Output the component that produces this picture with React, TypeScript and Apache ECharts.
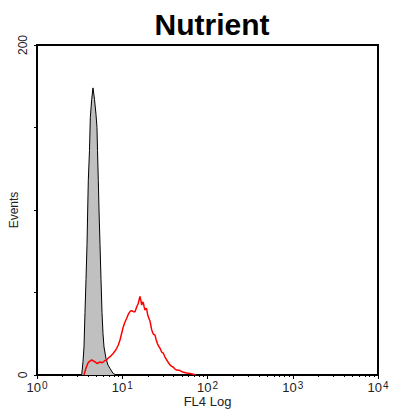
import React, { useEffect, useRef } from "react";
import * as echarts from "echarts";

const TITLE = "Nutrient";
const X_NAME = "FL4 Log";
const Y_NAME = "Events";

// Control (gray filled) histogram
const GRAY_FL4 = [3.345, 3.464, 3.558, 3.656, 3.757, 3.86, 3.933, 3.997, 4.128, 4.219, 4.381, 4.538, 4.726, 4.921, 5.056, 5.125, 5.237, 5.337, 5.483, 5.633, 5.788, 5.946, 6.109, 6.446, 6.804, 7.182, 7.791, 8.449];
const GRAY_EVENTS = [0, 8, 17, 38, 58, 79, 100, 118, 136, 156, 167, 174, 167, 158, 150, 136, 118, 100, 79, 58, 38, 25, 17, 10, 6, 4, 1, 0];

// Sample (red line) histogram
const RED_FL4 = [3.558, 3.757, 3.965, 4.107, 4.381, 4.599, 4.789, 5.056, 5.237, 5.483, 5.741, 5.995, 6.277, 6.572, 6.862, 7.182, 7.519, 7.852, 8.222, 8.607, 8.988, 9.41, 9.852, 10.29, 10.77, 11.28, 11.68, 12.09, 12.5, 12.91, 13.48, 14.11, 14.77, 15.43, 15.85, 16.15, 16.6, 16.91, 17.28, 17.65, 18.09, 18.49, 18.99, 19.35, 19.78, 20.21, 21.16, 22.16, 23.13, 24.22, 25.02, 25.77, 26.62, 27.72, 29.02, 30.3, 31.73, 33.22, 34.69, 36.32, 38.03, 39.71, 41.58, 43.53, 47.58, 52.02, 57.02, 62.33, 68.15, 73.31];
const RED_EVENTS = [0, 4.2, 7.3, 8.1, 9.1, 8.5, 7.9, 7.0, 7.3, 7.9, 7.3, 7.9, 8.8, 9.1, 10.3, 11.1, 12.1, 13.2, 14.5, 16.2, 18.2, 21.2, 25.3, 29.3, 32.1, 34.4, 36.4, 37.8, 38.8, 39.0, 38.4, 38.4, 41.2, 43.5, 46.1, 47.6, 44.8, 42.4, 44.2, 43.8, 41.2, 39.4, 40.4, 40.0, 37.0, 35.3, 32.7, 27.3, 24.8, 24.2, 21.2, 19.2, 17.6, 16.2, 13.9, 13.2, 10.9, 9.1, 7.6, 6.1, 5.2, 4.7, 3.6, 3.0, 2.7, 1.6, 1.2, 0.9, 0.4, 0];

const X_MIN = 1;
const X_MAX = 10000;
const Y_MIN = 0;
const Y_MAX = 200;
const Y_INTERVAL = 50;
const Y_LABELS = [0, 200];
const DECADES = [0, 1, 2, 3];
const MINOR_MULTIPLIERS = [2, 3, 4, 5, 6, 7, 8, 9];

const FONT = "'Liberation Sans', Arial, sans-serif";

export default function App() {
  const ref = useRef<HTMLDivElement>(null);

  useEffect(() => {
    if (!ref.current) return;
    const chart = echarts.init(ref.current, undefined, { renderer: "svg" });

    const minorTicks: number[] = [];
    DECADES.forEach((d) => {
      MINOR_MULTIPLIERS.forEach((m) => minorTicks.push(d + Math.log10(m)));
    });

    const gray = GRAY_FL4.map((x, i) => [x, GRAY_EVENTS[i]]);
    const red = RED_FL4.map((x, i) => [x, RED_EVENTS[i]]);

    chart.setOption({
      animation: false,
      backgroundColor: "#ffffff",
      textStyle: { fontFamily: FONT },
      title: {
        text: TITLE,
        left: 207,
        textAlign: "center",
        top: 4,
        textStyle: { fontFamily: FONT, fontSize: 30, fontWeight: "bold", color: "#000" },
      },
      grid: {
        left: 37,
        right: 16,
        top: 45,
        bottom: 35,
        containLabel: false,
        outerBoundsMode: "none",
        show: true,
        borderColor: "#000",
        borderWidth: 2,
        backgroundColor: "transparent",
      },
      xAxis: [
        {
          type: "log",
          logBase: 10,
          min: X_MIN,
          max: X_MAX,
          name: X_NAME,
          nameLocation: "middle",
          nameGap: 20,
          nameMoveOverlap: false,
          nameTextStyle: { fontFamily: FONT, fontSize: 13, color: "#222", verticalAlign: "top" },
          axisLine: { show: true, lineStyle: { color: "#000", width: 2 } },
          axisTick: { show: true, length: 4, lineStyle: { color: "#000", width: 1 } },
          splitLine: { show: false },
          axisLabel: {
            margin: 5,
            color: "#222",
            fontFamily: FONT,
            lineHeight: 14,
            formatter: (v: number) => "{b|10}{s|" + Math.round(Math.log10(v)) + "}",
            rich: {
              b: { fontSize: 13, fontFamily: FONT, color: "#222", lineHeight: 14 },
              s: { fontSize: 10, fontFamily: FONT, color: "#222", lineHeight: 14, verticalAlign: "top", padding: [0, 0, 0, 1] },
            },
          },
        },
        {
          type: "value",
          min: 0,
          max: 4,
          position: "bottom",
          axisLine: { show: false },
          axisLabel: { show: false },
          splitLine: { show: false },
          axisTick: {
            show: true,
            length: 2,
            customValues: minorTicks,
            lineStyle: { color: "#000", width: 1 },
          },
        },
      ],
      yAxis: {
        type: "value",
        min: Y_MIN,
        max: Y_MAX,
        interval: Y_INTERVAL,
        name: Y_NAME,
        nameLocation: "middle",
        nameRotate: 90,
        nameGap: 17,
        nameMoveOverlap: false,
        nameTextStyle: { fontFamily: FONT, fontSize: 12, color: "#222" },
        axisLine: { show: true, lineStyle: { color: "#000", width: 2 } },
        axisTick: { show: true, length: 3, lineStyle: { color: "#000", width: 1 } },
        splitLine: { show: false },
        axisLabel: {
          rotate: 90,
          margin: 8,
          fontSize: 12,
          fontFamily: FONT,
          color: "#222",
          formatter: (v: number) => (Y_LABELS.indexOf(v) >= 0 ? String(v) : ""),
        },
      },
      series: [
        {
          type: "line",
          xAxisIndex: 0,
          data: gray,
          symbol: "none",
          lineStyle: { color: "#000", width: 1 },
          areaStyle: { color: "#c0c0c0", opacity: 1 },
          z: 2,
        },
        {
          type: "line",
          xAxisIndex: 0,
          data: red,
          symbol: "none",
          lineStyle: { color: "#ff0000", width: 1.5 },
          z: 3,
        },
      ],
    });

    return () => chart.dispose();
  }, []);

  return (
    <div
      ref={ref}
      style={{ position: "absolute", left: 0, top: 0, width: 394, height: 410 }}
    />
  );
}
